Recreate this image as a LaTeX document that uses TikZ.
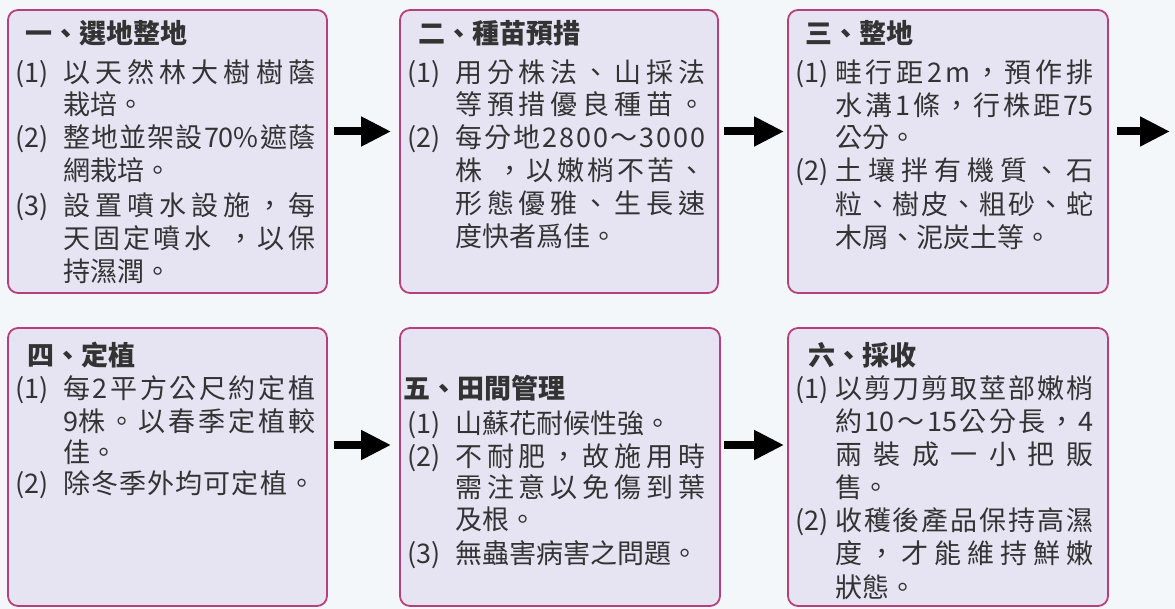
\documentclass[tikz,border=0pt]{standalone}
\usepackage{fontspec}
\setmainfont{Noto Sans CJK TC}
\usetikzlibrary{arrows.meta}
\definecolor{bg}{HTML}{F3F7FA}
\definecolor{boxfill}{HTML}{E6E3F2}
\definecolor{boxline}{HTML}{B8407A}
\definecolor{ink}{HTML}{333333}
\makeatletter
\newcommand\jl[2]{\hbox to #1{\@tfor\jtok:=#2\do{\jtok\hfil}\unskip}}
\makeatother
\begin{document}
\begin{tikzpicture}[x=1pt,y=-1pt,
  txt/.style={anchor=west, inner sep=0pt, text height=24pt, text depth=3pt,
    font=\fontsize{27}{31}\selectfont, text=ink},
  ttl/.style={txt, font=\fontsize{27}{31}\selectfont\bfseries},
  stage/.style={draw=boxline, line width=1.8pt, fill=boxfill, rounded corners=10pt,
    inner sep=0pt, minimum width=#1},
  stage/.default=319pt,
  arr/.style={line width=8pt, -{Triangle[length=30pt,width=28pt]}}]
\useasboundingbox (0,0) rectangle (1175,609);
\fill[bg] (0,0) rectangle (1175,609);

% boxes
\node[stage=319pt, minimum height=283pt] (b1) at (167.5,151.5) {};
\node[stage=318pt, minimum height=283pt] (b2) at (559,151.5) {};
\node[stage=320pt, minimum height=283pt] (b3) at (948,151.5) {};
\node[stage=319pt, minimum height=278pt] (b4) at (167.5,467) {};
\node[stage=320pt, minimum height=278pt] (b5) at (560,467) {};
\node[stage=320pt, minimum height=278pt] (b6) at (948,467) {};

% arrows
\coordinate (end3) at (1170,131.5);
\draw[arr, shorten <=6pt, shorten >=8pt] ([yshift=20pt]b1.east) -- ([yshift=20pt]b2.west);
\draw[arr, shorten <=5pt, shorten >=3pt] ([yshift=20pt]b2.east) -- ([yshift=20pt]b3.west);
\draw[arr, shorten <=8pt] ([yshift=20pt]b3.east) -- (end3);
\draw[arr, shorten <=6pt, shorten >=8pt] ([yshift=22pt]b4.east) -- ([yshift=22pt]b5.west);
\draw[arr, shorten <=3pt, shorten >=3pt] ([yshift=22pt]b5.east) -- ([yshift=22pt]b6.west);

% box 1
\node[ttl] (b1t) at (25,33) {一、選地整地};
\node[txt] (b1n1) at (15,72) {(1)};
\node[txt] (b1a) at (63,72) {\jl{252pt}{以天然林大樹樹蔭}};
\node[txt] (b1b) at (63,104) {栽培。};
\node[txt] (b1n2) at (15,137) {(2)};
\node[txt] (b1c) at (63,137) {\jl{252pt}{整地並架設{70\%}遮蔭}};
\node[txt] (b1d) at (63,170) {網栽培。};
\node[txt] (b1n3) at (15,205) {(3)};
\node[txt] (b1e) at (63,205) {\jl{252pt}{設置噴水設施，每}};
\node[txt] (b1f) at (63,238) {\jl{252pt}{天固定噴水{\kern10pt}，以保}};
\node[txt] (b1g) at (63,271) {持濕潤。};

% box 2
\node[ttl] (b2t) at (418,33) {二、種苗預措};
\node[txt] (b2n1) at (407,72) {(1)};
\node[txt] (b2a) at (455,72) {\jl{250pt}{用分株法、山採法}};
\node[txt] (b2b) at (455,104) {\jl{250pt}{等預措優良種苗。}};
\node[txt] (b2n2) at (407,137) {(2)};
\node[txt] (b2c) at (455,137) {\jl{250pt}{每分地2800～3000}};
\node[txt] (b2d) at (455,170) {\jl{250pt}{株{\kern8pt}，以嫩梢不苦、}};
\node[txt] (b2e) at (455,203) {\jl{250pt}{形態優雅、生長速}};
\node[txt] (b2f) at (455,236) {度快者爲佳。};

% box 3
\node[ttl] (b3t) at (805,33) {三、整地};
\node[txt] (b3n1) at (795,72) {(1)};
\node[txt] (b3a) at (835,72) {\jl{258pt}{畦行距2m，預作排}};
\node[txt] (b3b) at (835,105) {\jl{258pt}{水溝1條，行株距{75}}};
\node[txt] (b3c) at (835,137) {公分。};
\node[txt] (b3n2) at (795,170) {(2)};
\node[txt] (b3d) at (835,170) {\jl{258pt}{土壤拌有機質、石}};
\node[txt] (b3e) at (835,204) {\jl{258pt}{粒、樹皮、粗砂、蛇}};
\node[txt] (b3f) at (835,237) {木屑、泥炭土等。};

% box 4
\node[ttl] (b4t) at (27,355) {四、定植};
\node[txt] (b4n1) at (15,388) {(1)};
\node[txt] (b4a) at (63,388) {\jl{252pt}{每2平方公尺約定植}};
\node[txt] (b4b) at (63,421) {\jl{252pt}{{9株}。以春季定植較}};
\node[txt] (b4c) at (63,452) {佳。};
\node[txt] (b4n2) at (15,483) {(2)};
\node[txt] (b4d) at (63,483) {\jl{252pt}{除冬季外均可定植。}};

% box 5
\node[ttl] (b5t) at (403,388) {五、田間管理};
\node[txt] (b5n1) at (407,423) {(1)};
\node[txt] (b5a) at (455,423) {山蘇花耐候性強。};
\node[txt] (b5n2) at (407,456) {(2)};
\node[txt] (b5b) at (455,456) {\jl{250pt}{不耐肥，故施用時}};
\node[txt] (b5c) at (455,487) {\jl{250pt}{需注意以免傷到葉}};
\node[txt] (b5d) at (455,519) {及根。};
\node[txt] (b5n3) at (407,553) {(3)};
\node[txt] (b5e) at (455,553) {無蟲害病害之問題。};

% box 6
\node[ttl] (b6t) at (808,355) {六、採收};
\node[txt] (b6n1) at (795,388) {(1)};
\node[txt] (b6a) at (835,388) {\jl{258pt}{以剪刀剪取莖部嫩梢}};
\node[txt] (b6b) at (835,421) {\jl{258pt}{約{10}～{15}公分長，4}};
\node[txt] (b6c) at (835,454) {\jl{258pt}{兩裝成一小把販}};
\node[txt] (b6d) at (835,487) {售。};
\node[txt] (b6n2) at (795,520) {(2)};
\node[txt] (b6e) at (835,520) {\jl{258pt}{收穫後產品保持高濕}};
\node[txt] (b6f) at (835,553) {\jl{258pt}{度，才能維持鮮嫩}};
\node[txt] (b6g) at (835,587) {狀態。};
\end{tikzpicture}
\end{document}
